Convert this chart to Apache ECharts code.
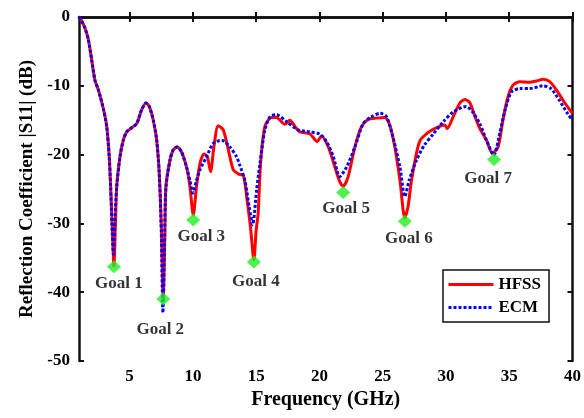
<!DOCTYPE html>
<html>
<head>
<meta charset="utf-8">
<script src="https://cdn.jsdelivr.net/npm/echarts@6/dist/echarts.min.js"></script>
<style>html,body{margin:0;padding:0;background:#fff}#c{width:584px;height:418px}</style>
</head>
<body>
<div id="c"></div>
<script>
var hfssFreq = [1.0,1.16,1.47,1.74,2.0,2.26,2.53,2.92,3.19,3.39,3.5,3.62,3.76,3.88,3.98,4.24,4.5,4.77,5.16,5.56,5.95,6.29,6.55,6.87,7.14,7.34,7.5,7.66,7.78,7.87,8.19,8.45,8.76,9.1,9.5,9.77,10.03,10.3,10.56,10.87,11.14,11.4,11.66,12.0,12.4,12.8,13.19,13.6,14.0,14.25,14.55,14.82,15.0,15.16,15.35,15.69,16.22,16.6,17.27,17.67,18.06,18.46,19.25,19.83,20.17,20.7,21.22,21.6,21.88,22.27,22.8,23.33,23.85,24.5,25.17,25.56,25.96,26.36,26.75,27.0,27.28,27.67,27.94,28.2,28.73,29.5,29.9,30.1,30.57,31.1,31.5,31.9,32.3,32.67,33.2,33.67,34.12,34.5,34.9,35.3,35.83,36.6,37.15,37.68,38.2,38.73,39.25,39.9,40.0];
var hfssDb = [0,-0.4,-1.6,-3.3,-6.2,-9.2,-10.6,-13.3,-15.9,-20.3,-24.7,-30,-36.2,-30,-24.7,-20.3,-17.9,-16.7,-16.1,-15.5,-13.5,-12.5,-13,-15,-17.9,-22.7,-30,-41,-32,-24.7,-20.8,-19.3,-18.9,-19.6,-21.8,-24.7,-28.8,-24.4,-21.3,-19.9,-20.3,-22.5,-18.9,-15.8,-16.4,-19.3,-22.2,-22.8,-23.1,-26.1,-30.5,-35.3,-31,-28.5,-21.3,-15.9,-14.6,-14.6,-15.6,-15,-15.9,-16.7,-17,-18.1,-17.3,-18.9,-21.8,-23.9,-24.6,-23.2,-18.9,-15.9,-14.9,-14.7,-14.6,-15.7,-18.9,-23.7,-29.2,-27.6,-23.7,-19.8,-18.0,-17.4,-16.6,-15.9,-15.7,-16.2,-14.5,-12.5,-12,-12.5,-14.5,-16.2,-17.9,-19.8,-18.9,-15,-11.6,-9.9,-9.4,-9.5,-9.3,-9.05,-9.4,-10.6,-12.1,-13.8,-14];
var ecmFreq = [1.0,1.16,1.47,1.74,2.0,2.26,2.53,2.92,3.19,3.39,3.5,3.6,3.72,3.85,3.98,4.24,4.5,4.77,5.16,5.56,5.95,6.29,6.55,6.87,7.14,7.34,7.5,7.63,7.76,7.87,8.19,8.45,8.76,9.1,9.5,9.77,10.0,10.25,10.56,11.08,11.6,12.27,12.93,13.45,13.7,14.1,14.45,14.72,15.04,15.3,15.69,16.1,16.6,17.4,18.3,19.25,20.0,20.56,21.1,21.6,22.15,22.8,23.46,24.1,24.8,25.3,25.8,26.36,26.75,27.1,27.67,28.3,29.0,29.8,30.57,31.6,32.1,32.67,33.2,33.78,34.25,34.7,35.17,35.83,36.6,37.68,38.3,38.96,39.6,40.0];
var ecmDb = [0,-0.4,-1.6,-3.3,-6.2,-9.2,-10.6,-13.3,-15.9,-20.3,-24.7,-30,-34.5,-29,-24.7,-20.3,-17.9,-16.7,-16.1,-15.5,-13.5,-12.5,-13,-15,-17.9,-22.7,-31,-43,-33,-24.7,-20.8,-19.3,-18.9,-19.6,-21.8,-23.8,-25.6,-24,-22.2,-20.3,-18.4,-17.9,-18.9,-20.3,-21.5,-23.7,-27.6,-30.2,-25.1,-21.3,-16.4,-14.5,-14.2,-15.2,-16.4,-16.7,-17,-18.1,-20.3,-23.2,-21.8,-18.9,-15.5,-14.5,-14,-14.5,-17.4,-21.8,-26.1,-23.7,-20.8,-18.6,-17.0,-15.2,-13.8,-13,-13.8,-15.5,-17.9,-20.1,-16.9,-13.3,-10.9,-10.4,-10.4,-10,-10.4,-12.1,-14,-15];
var goalFreq = [3.76,7.66,10.03,14.82,21.88,26.75,33.8];
var goalDb = [-36.3,-41.0,-29.5,-35.6,-25.5,-29.7,-20.7];
var goalNames = ['Goal 1','Goal 2','Goal 3','Goal 4','Goal 5','Goal 6','Goal 7'];
var xTicks = [5,10,15,20,25,30,35,40];

var labelOffsets = [[5,17],[-3,31],[8,17],[2,20],[3,16],[4,17],[-6,19]];
var FF = '"Liberation Serif","Times New Roman",serif';
function pairs(a,b){return a.map(function(v,i){return [v,b[i]];});}
var goalData = goalFreq.map(function(f,i){
  return {value:[f,goalDb[i]], name:goalNames[i], label:{offset:labelOffsets[i]}};
});
var axisLineStyle = {color:'#111', width:2.5};
var chart = echarts.init(document.getElementById('c'));
chart.setOption({
  animation:false,
  grid:{left:79, right:11, top:17, bottom:57, containLabel:false},
  legend:{
    data:['HFSS','ECM'], orient:'vertical', left:443, top:270,
    itemWidth:45, itemHeight:10, itemGap:6,
    itemStyle:{opacity:0}, lineStyle:{width:3},
    borderColor:'#111', borderWidth:1.5, borderRadius:0,
    padding:[6,8,6,4], backgroundColor:'#fff',
    textStyle:{fontFamily:FF, fontWeight:'bold', fontSize:17, color:'#000'}
  },
  xAxis:[{
    type:'value', min:1, max:40, position:'bottom',
    name:'Frequency (GHz)', nameLocation:'middle', nameGap:25,
    nameTextStyle:{fontFamily:FF, fontWeight:'bold', fontSize:20, color:'#000'},
    axisLine:{show:true, lineStyle:axisLineStyle},
    axisTick:{show:true, inside:true, length:5, customValues:xTicks, lineStyle:{color:'#111', width:2}},
    axisLabel:{customValues:xTicks, margin:7, fontFamily:FF, fontWeight:'bold', fontSize:17, color:'#000'},
    splitLine:{show:false}
  },{
    type:'value', min:1, max:40, position:'top',
    axisLine:{show:true, lineStyle:axisLineStyle},
    axisTick:{show:true, inside:true, length:5, customValues:xTicks, lineStyle:{color:'#111', width:2}},
    axisLabel:{show:false}, splitLine:{show:false}
  }],
  yAxis:[{
    type:'value', min:-50, max:0, interval:10, position:'left',
    name:'Reflection Coefficient |S11| (dB)', nameLocation:'middle', nameGap:40,
    nameTextStyle:{fontFamily:FF, fontWeight:'bold', fontSize:19, color:'#000'},
    axisLine:{show:true, lineStyle:axisLineStyle},
    axisTick:{show:true, inside:true, length:5, lineStyle:{color:'#111', width:2}},
    axisLabel:{margin:9, fontFamily:FF, fontWeight:'bold', fontSize:17, color:'#000'},
    splitLine:{show:false}
  },{
    type:'value', min:-50, max:0, interval:10, position:'right',
    axisLine:{show:true, lineStyle:axisLineStyle},
    axisTick:{show:true, inside:true, length:5, lineStyle:{color:'#111', width:2}},
    axisLabel:{show:false}, splitLine:{show:false}
  }],
  series:[{
    name:'HFSS', type:'line', data:pairs(hfssFreq,hfssDb), smooth:0.25,
    symbol:'none', lineStyle:{color:'#ff0000', width:3}, itemStyle:{color:'#ff0000'}, z:2
  },{
    name:'ECM', type:'line', data:pairs(ecmFreq,ecmDb), smooth:0.25,
    symbol:'none', lineStyle:{color:'#0000ff', width:3, type:[3,2]}, itemStyle:{color:'#0000ff'}, z:3
  },{
    name:'Goals', type:'scatter', data:goalData, symbol:'diamond', symbolSize:[14,13],
    itemStyle:{color:'#22ee22'}, z:5,
    label:{show:true, position:'inside', formatter:'{b}', fontFamily:FF, fontWeight:'bold', fontSize:17, color:'#000'}
  }]
});
</script>
</body>
</html>
